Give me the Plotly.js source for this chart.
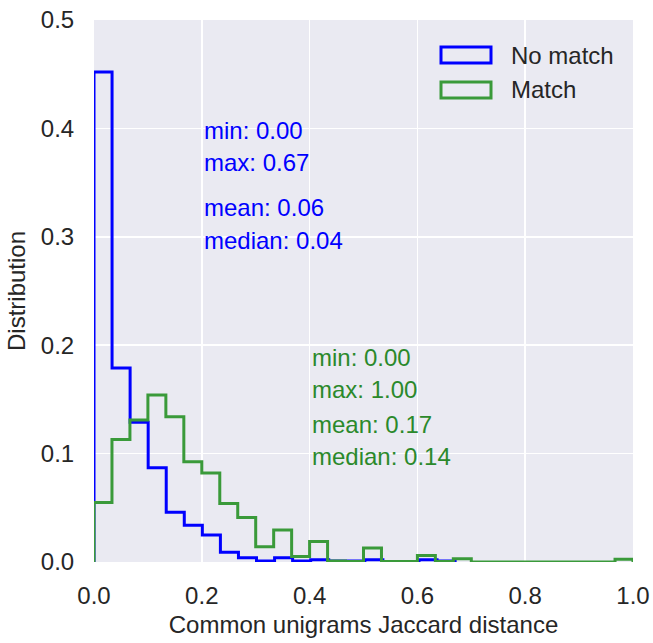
<!DOCTYPE html>
<html>
<head>
<meta charset="utf-8">
<script src="https://cdn.plot.ly/plotly-3.0.1.min.js"></script>
<style>html,body{margin:0;padding:0;background:#fff;}</style>
</head>
<body>
<div id="chart" style="width:653px;height:643px;"></div>
<script>
// ---- data ----
const seriesNames = ["No match", "Match"];
const noMatchRange = [0, 0.67];   // histogram range of "No match"
const noMatchValues = [0.452, 0.179, 0.129, 0.087, 0.046, 0.034, 0.025, 0.009, 0.004, 0.001,
                       0.004, 0.001, 0.002, 0.001, 0.001, 0.002, 0.0005, 0.0005, 0.002, 0.001];
const matchRange = [0, 1.0];      // histogram range of "Match"
const matchValues = [0.055, 0.113, 0.131, 0.154, 0.134, 0.0925, 0.082, 0.054, 0.041, 0.014,
                     0.0295, 0.005, 0.019, 0.001, 0.0005, 0.013, 0.0005, 0.0005, 0.006, 0.0005,
                     0.003, 0, 0, 0, 0, 0, 0, 0, 0, 0.0025];
const noMatchStats = ["min: 0.00", "max: 0.67", "mean: 0.06", "median: 0.04"];
const matchStats = ["min: 0.00", "max: 1.00", "mean: 0.17", "median: 0.14"];
const xTicks = [0, 0.2, 0.4, 0.6, 0.8, 1.0];
const yTicks = [0, 0.1, 0.2, 0.3, 0.4, 0.5];

// ---- build step outline (matplotlib histtype='step') ----
function stepXY(range, vals) {
  const n = vals.length, w = (range[1] - range[0]) / n;
  const xs = [range[0]], ys = [0];
  for (let i = 0; i < n; i++) { xs.push(range[0] + i * w); ys.push(vals[i]); }
  xs.push(range[1]); ys.push(0);
  return {xs, ys};
}
const blueC = "#0000ff", greenC = "#3a9a3a", greenText = "#2b892b";
const a = stepXY(noMatchRange, noMatchValues);
const b = stepXY(matchRange, matchValues);

const traces = [
  {type: "scatter", mode: "lines", x: a.xs, y: a.ys, name: seriesNames[0],
   line: {color: blueC, width: 3, shape: "hv"}, showlegend: false, hoverinfo: "skip"},
  {type: "scatter", mode: "lines", x: b.xs, y: b.ys, name: seriesNames[1],
   line: {color: greenC, width: 3, shape: "hv"}, showlegend: false, hoverinfo: "skip"}
];

const font = {family: "Liberation Sans, Arial, sans-serif", color: "#262626"};
const fs = 24;
const ann = [];
const blueY = [0.3985, 0.369, 0.3266, 0.297];
noMatchStats.forEach((t, i) => ann.push({x: 0.2, y: blueY[i], xref: "x", yref: "y", text: t,
  showarrow: false, xanchor: "left", yanchor: "middle", font: {family: font.family, size: fs, color: blueC}}));
const greenY = [0.189, 0.1587, 0.1273, 0.0969];
matchStats.forEach((t, i) => ann.push({x: 0.4, y: greenY[i], xref: "x", yref: "y", text: t,
  showarrow: false, xanchor: "left", yanchor: "middle", font: {family: font.family, size: fs, color: greenText}}));

// legend (drawn manually: outlined patches + labels)
const px = v => (v - 94) / 539, py = v => (562 - v) / 542;
ann.push({x: px(509), y: py(55), xref: "paper", yref: "paper", text: seriesNames[0], showarrow: false,
  xanchor: "left", yanchor: "middle", font: {family: font.family, size: fs, color: "#262626"}});
ann.push({x: px(509), y: py(89), xref: "paper", yref: "paper", text: seriesNames[1], showarrow: false,
  xanchor: "left", yanchor: "middle", font: {family: font.family, size: fs, color: "#262626"}});
const shapes = [
  {type: "rect", xref: "paper", yref: "paper", x0: px(441), x1: px(491), y0: py(63), y1: py(47),
   line: {color: blueC, width: 3}, fillcolor: "rgba(0,0,0,0)"},
  {type: "rect", xref: "paper", yref: "paper", x0: px(441), x1: px(491), y0: py(98), y1: py(82),
   line: {color: greenC, width: 3}, fillcolor: "rgba(0,0,0,0)"}
];

const layout = {
  width: 653, height: 643,
  margin: {l: 94, r: 20, t: 20, b: 81, pad: 0},
  paper_bgcolor: "#ffffff", plot_bgcolor: "#EAEAF2",
  showlegend: false,
  font: font,
  xaxis: {range: [0, 1], tickvals: xTicks, tickformat: ".1f", showgrid: true, gridcolor: "#ffffff",
          gridwidth: 1.5, zeroline: false, showline: false, ticks: "outside", ticklen: 12,
          tickcolor: "rgba(0,0,0,0)", tickfont: {size: fs, color: "#262626"},
          title: {text: "Common unigrams Jaccard distance", font: {size: fs, color: "#262626"}, standoff: 8}},
  yaxis: {range: [0, 0.5], tickvals: yTicks, tickformat: ".1f", showgrid: true, gridcolor: "#ffffff",
          gridwidth: 1.5, zeroline: false, showline: false, ticks: "outside", ticklen: 14,
          tickcolor: "rgba(0,0,0,0)", tickfont: {size: fs, color: "#262626"},
          title: {text: "Distribution", font: {size: fs, color: "#262626"}, standoff: 8}},
  annotations: ann,
  shapes: shapes
};
Plotly.newPlot("chart", traces, layout, {displayModeBar: false, staticPlot: true});
</script>
</body>
</html>
